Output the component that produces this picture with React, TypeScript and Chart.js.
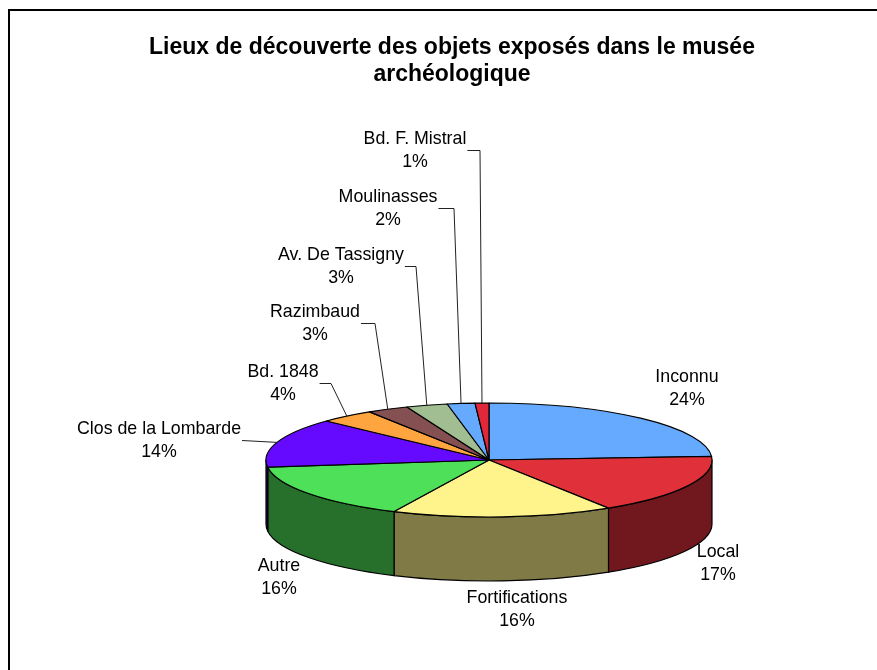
import { useEffect, useRef } from 'react';
import { Chart, registerables } from 'chart.js';

Chart.register(...registerables);

const TITLE_LINES = ['Lieux de découverte des objets exposés dans le musée', 'archéologique'];
const CATEGORIES = [
  'Inconnu',
  'Local',
  'Fortifications',
  'Autre',
  'Clos de la Lombarde',
  'Bd. 1848',
  'Razimbaud',
  'Av. De Tassigny',
  'Moulinasses',
  'Bd. F. Mistral',
];
const VALUES = [24, 17, 16, 16, 14, 4, 3, 3, 2, 1];
const COLORS = [
  '#66AAFF',
  '#E0303A',
  '#FFF48C',
  '#4DE058',
  '#660AFF',
  '#FFA540',
  '#855052',
  '#A0BE91',
  '#66AAFF',
  '#E0283A',
];

// label layout: [text center x, first-line baseline y]
const LABEL_POS: [number, number][] = [
  [687, 382],
  [718, 557],
  [517, 603],
  [279, 571],
  [159, 434],
  [283, 377],
  [315, 317],
  [341, 260],
  [388, 202],
  [415, 144],
];
// leader lines: 'none' | 'straight' | elbow x
const LEADERS: (string | number)[] = ['none', 'none', 'none', 'none', 'straight', 331, 375, 416, 454, 480];

const LABEL_FONT = '17.8px "Liberation Sans", Arial, sans-serif';
const LINE_H = 23;

function darken(hex: string, f: number) {
  const n = parseInt(hex.slice(1), 16);
  const r = Math.round(((n >> 16) & 255) * f);
  const g = Math.round(((n >> 8) & 255) * f);
  const b = Math.round((n & 255) * f);
  return `rgb(${r},${g},${b})`;
}

const framePlugin = {
  id: 'frame',
  beforeDraw(chart: any) {
    const ctx = chart.ctx;
    ctx.save();
    ctx.fillStyle = '#fff';
    ctx.fillRect(0, 0, chart.width, chart.height);
    ctx.fillStyle = '#000';
    ctx.fillRect(8, 9, 2, chart.height);
    ctx.fillRect(8, 9, chart.width, 2);
    ctx.restore();
  },
};

function geom(chart: any, opts: any) {
  const meta = chart.getDatasetMeta(0);
  return meta.data.map((arc: any, i: number) => {
    const p = arc.getProps(['x', 'y', 'startAngle', 'endAngle', 'outerRadius'], true);
    return {
      cx: opts.center[0],
      cy: opts.center[1],
      r: p.outerRadius,
      s: p.startAngle,
      e: p.endAngle,
      color: COLORS[i],
    };
  });
}

const pie3dPlugin = {
  id: 'pie3d',
  beforeDatasetsDraw(chart: any, _args: any, opts: any) {
    const ctx = chart.ctx;
    const tilt = opts.tilt;
    const depth = opts.depth;
    const slices = geom(chart, opts);
    ctx.save();
    ctx.lineWidth = 1.2;
    ctx.strokeStyle = '#000';
    ctx.lineJoin = 'round';
    // side walls (front half only)
    for (const sl of slices) {
      const a1 = Math.max(sl.s, 0);
      const a2 = Math.min(sl.e, Math.PI);
      if (a2 <= a1) continue;
      const ry = sl.r * tilt;
      ctx.beginPath();
      ctx.ellipse(sl.cx, sl.cy, sl.r, ry, 0, a1, a2, false);
      ctx.lineTo(sl.cx + sl.r * Math.cos(a2), sl.cy + depth + ry * Math.sin(a2));
      ctx.ellipse(sl.cx, sl.cy + depth, sl.r, ry, 0, a2, a1, true);
      ctx.closePath();
      ctx.fillStyle = darken(sl.color, 0.5);
      ctx.fill();
      ctx.stroke();
    }
    // top faces
    for (const sl of slices) {
      const ry = sl.r * tilt;
      ctx.beginPath();
      ctx.moveTo(sl.cx, sl.cy);
      ctx.ellipse(sl.cx, sl.cy, sl.r, ry, 0, sl.s, sl.e, false);
      ctx.closePath();
      ctx.fillStyle = sl.color;
      ctx.fill();
      ctx.stroke();
    }
    ctx.restore();
    return false;
  },
  afterDraw(chart: any, _args: any, opts: any) {
    const ctx = chart.ctx;
    const tilt = opts.tilt;
    const slices = geom(chart, opts);
    const total = VALUES.reduce((a, b) => a + b, 0);
    ctx.save();
    ctx.font = LABEL_FONT;
    ctx.fillStyle = '#000';
    ctx.textAlign = 'center';
    ctx.textBaseline = 'alphabetic';
    slices.forEach((sl: any, i: number) => {
      const [lx, ly] = LABEL_POS[i];
      const name = CATEGORIES[i];
      const pct = Math.round((VALUES[i] / total) * 100) + '%';
      ctx.fillText(name, lx, ly);
      ctx.fillText(pct, lx, ly + LINE_H);
      const lead = LEADERS[i];
      if (lead === 'none') return;
      const mid = (sl.s + sl.e) / 2;
      const px = sl.cx + sl.r * Math.cos(mid);
      const py = sl.cy + sl.r * tilt * Math.sin(mid);
      const tx = lx + ctx.measureText(name).width / 2 + 1;
      const yy = ly + 6.5;
      ctx.beginPath();
      ctx.strokeStyle = '#222';
      ctx.lineWidth = 1;
      ctx.moveTo(tx, yy);
      if (typeof lead === 'number') ctx.lineTo(lead, yy);
      ctx.lineTo(px, py);
      ctx.stroke();
    });
    ctx.restore();
  },
};

export default function App() {
  const ref = useRef<HTMLCanvasElement>(null);
  useEffect(() => {
    const canvas = ref.current!;
    const chart = new Chart(canvas, {
      type: 'pie',
      data: {
        labels: CATEGORIES,
        datasets: [
          {
            data: VALUES,
            backgroundColor: COLORS,
            borderColor: '#000',
            borderWidth: 1,
            radius: 223,
          } as any,
        ],
      },
      options: {
        responsive: false,
        animation: false,
        devicePixelRatio: 1,
        layout: { padding: { left: 40, right: 13, top: 0, bottom: 0 } },
        plugins: {
          legend: { display: false },
          tooltip: { enabled: false },
          title: {
            display: true,
            text: TITLE_LINES,
            color: '#000',
            font: { family: '"Liberation Sans", Arial, sans-serif', size: 23, weight: 'bold', lineHeight: 1.17 },
            padding: { top: 34, bottom: 0 },
          },
          pie3d: { center: [489, 460], tilt: 57 / 223, depth: 64 },
        } as any,
      },
      plugins: [framePlugin, pie3dPlugin],
    });
    return () => chart.destroy();
  }, []);
  return (
    <div style={{ position: 'absolute', left: 0, top: 0, width: 877, height: 670, overflow: 'hidden' }}>
      <canvas ref={ref} width={877} height={670} style={{ display: 'block' }} />
    </div>
  );
}
